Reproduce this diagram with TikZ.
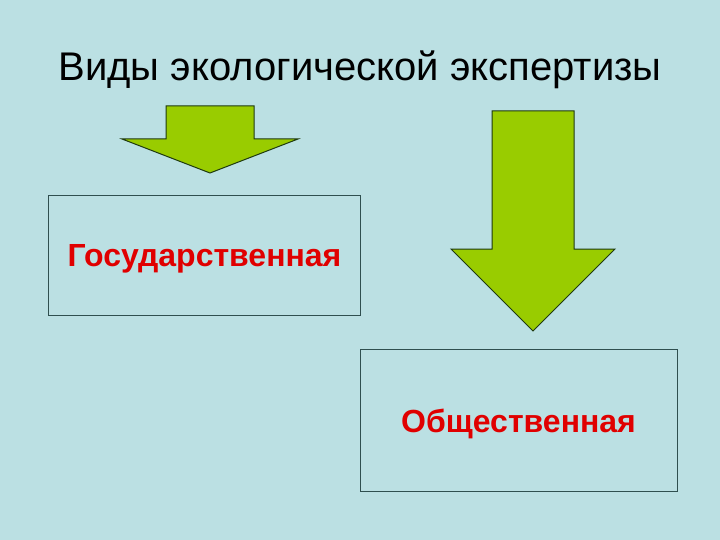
\documentclass[tikz,border=0pt]{standalone}
\usepackage{fontspec}
\setmainfont{Liberation Sans}
\usetikzlibrary{positioning}
\definecolor{slidebg}{HTML}{BBE0E3}
\definecolor{arrowgreen}{HTML}{99CC00}
\definecolor{arrowline}{HTML}{1F3A10}
\definecolor{boxline}{HTML}{2F4F4F}
\definecolor{kindred}{HTML}{E00000}

\begin{document}
\begin{tikzpicture}[
    x=1pt, y=-1pt,
    every node/.style={inner sep=0pt},
    kind/.style={draw=boxline, line width=1pt, font=\fontsize{32}{38}\selectfont\bfseries, text=kindred},
    bigarrow/.style={fill=arrowgreen, draw=arrowline, line width=1pt, line join=miter}
]

   % Background
   \fill[slidebg] (0,0) rectangle (720,540);
   \useasboundingbox (0,0) rectangle (720,540);

   % Title
   \node (title) at (360,70) {\fontsize{40}{48}\selectfont Виды экологической экспертизы};

   % Boxes
   \node[kind, minimum width=312pt, minimum height=119pt] (state) at (204.5,255.5) {\raisebox{-3pt}[\height][\depth]{Государственная}};
   \node[kind, minimum width=317pt, minimum height=142pt] (public) at (518.5,420) {\raisebox{-4pt}[\height][\depth]{Общественная}};

   % Arrows
   \draw[bigarrow] (166,106) -- (254,106) -- (254,139) -- (298,139) -- (210,173)
       -- (122,139) -- (166,139) -- cycle;
   \draw[bigarrow] (492,111) -- (574,111) -- (574,249) -- (615,249) -- (533,331)
       -- (451,249) -- (492,249) -- cycle;

\end{tikzpicture}
\end{document}
